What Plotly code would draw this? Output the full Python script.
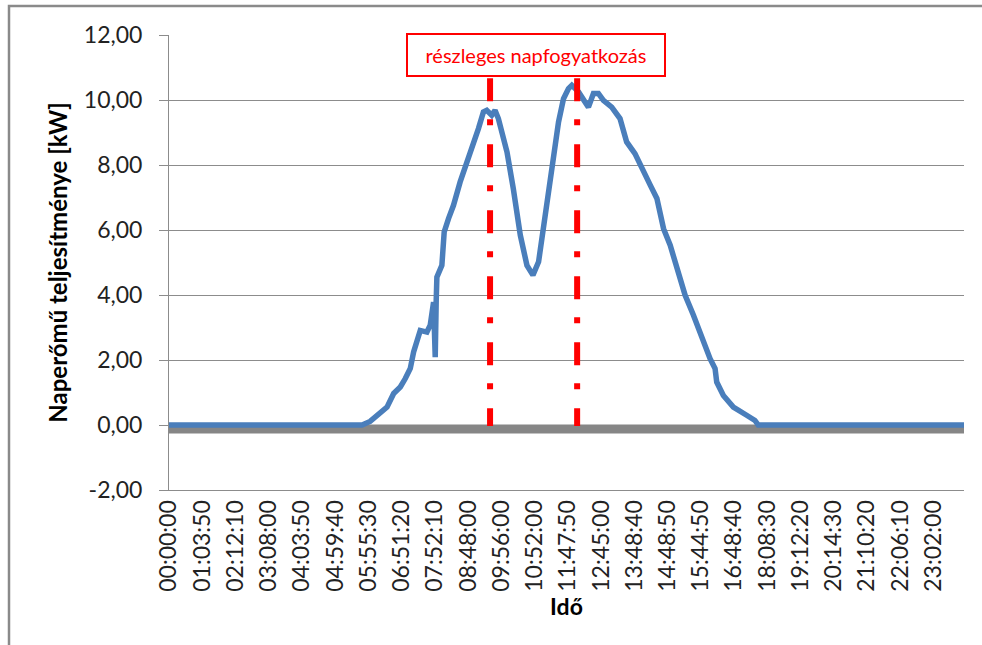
import plotly.graph_objects as go

# Category labels shown on the time axis (one every fixed number of samples)
time_labels = [
    "00:00:00", "01:03:50", "02:12:10", "03:08:00", "04:03:50", "04:59:40",
    "05:55:30", "06:51:20", "07:52:10", "08:48:00", "09:56:00", "10:52:00",
    "11:47:50", "12:45:00", "13:48:40", "14:48:50", "15:44:50", "16:48:40",
    "18:08:30", "19:12:20", "20:14:30", "21:10:20", "22:06:10", "23:02:00",
]
axis_end = 23.92  # last sample position in label units

# Power axis ticks and their labels (comma decimal, plain hyphen minus)
y_ticks = [-2, 0, 2, 4, 6, 8, 10, 12]
y_tick_labels = ["-2,00", "0,00", "2,00", "4,00", "6,00", "8,00", "10,00", "12,00"]

# PV plant output, position along the category axis (label units) and kW
pos = [
    0.00, 5.81, 6.05, 6.36, 6.56, 6.76, 6.96, 7.11, 7.26, 7.36, 7.56, 7.76,
    7.86, 7.96, 8.01, 8.04, 8.06, 8.21, 8.28, 8.41, 8.56, 8.76, 8.96, 9.16,
    9.31, 9.46, 9.56, 9.71, 9.81, 9.91, 10.17, 10.36, 10.57, 10.77, 10.95,
    11.12, 11.32, 11.52, 11.72, 11.87, 12.02, 12.12, 12.32, 12.47, 12.62,
    12.77, 12.92, 13.07, 13.32, 13.57, 13.77, 14.02, 14.23, 14.48, 14.68,
    14.88, 15.08, 15.33, 15.53, 15.78, 16.03, 16.28, 16.43, 16.48, 16.68,
    16.98, 17.38, 17.63, 17.73, 23.92,
]
power_kw = [
    0.00, 0.00, 0.11, 0.35, 0.55, 0.97, 1.17, 1.43, 1.74, 2.25, 2.91, 2.86,
    3.07, 3.78, 2.09, 3.84, 4.55, 4.91, 5.94, 6.35, 6.76, 7.48, 8.04, 8.61,
    9.12, 9.63, 9.68, 9.53, 9.68, 9.43, 8.40, 7.27, 5.84, 4.91, 4.61,
    5.02, 6.35, 7.89, 9.32, 10.04, 10.35, 10.45, 10.25, 9.99, 9.78,
    10.20, 10.20, 9.99, 9.78, 9.43, 8.71, 8.35, 7.94, 7.38, 6.97,
    6.04, 5.53, 4.66, 3.99, 3.38, 2.66, 2.04, 1.74, 1.32, 0.91,
    0.55, 0.30, 0.14, 0.00, 0.00,
]

# Second (grey) series, flat just under zero over the whole day
base_pos = [0.0, axis_end]
base_kw = [-0.12, -0.12]

# Eclipse phase markers (axis position) and their top (kW)
eclipse_pos = [9.66, 12.28]
eclipse_top = 10.67

GRID = "#8c8c8c"
TXT = "#222222"
FONT = "Lato"

fig = go.Figure()

fig.add_trace(go.Scatter(
    x=base_pos, y=base_kw, mode="lines",
    line=dict(color="#868686", width=9), hoverinfo="skip",
))
fig.add_trace(go.Scatter(
    x=pos, y=power_kw, mode="lines",
    line=dict(color="#4a7ebb", width=5.5), name="Naperőmű",
))
for p in eclipse_pos:
    fig.add_trace(go.Scatter(
        x=[p, p], y=[eclipse_top, -0.03], mode="lines",
        line=dict(color="#ff0000", width=6, dash="23px,18px,6px,19px"),
        hoverinfo="skip",
    ))

fig.add_annotation(
    xref="paper", yref="paper", x=(536 - 169) / 795, y=(490 - 55.5) / 455,
    xanchor="center", yanchor="middle",
    text="részleges napfogyatkozás", showarrow=False,
    font=dict(family=FONT, size=20, color="#ff0000"),
    bgcolor="white", bordercolor="#ff0000", borderwidth=2, borderpad=0,
    width=256, height=40,
)

# Outer chart frame
fig.add_shape(
    type="rect", xref="paper", yref="paper",
    x0=(9 - 169) / 795, x1=(995 - 169) / 795,
    y0=(490 - 660) / 455, y1=(490 - 6) / 455,
    line=dict(color="#8a8a8a", width=2.5), fillcolor="rgba(0,0,0,0)",
    layer="below",
)

fig.update_layout(
    width=982, height=645,
    margin=dict(l=169, r=18, t=35, b=155),
    paper_bgcolor="white", plot_bgcolor="white",
    showlegend=False,
    font=dict(family=FONT, color=TXT),
)

fig.update_xaxes(
    range=[0, axis_end],
    tickmode="array", tickvals=list(range(len(time_labels))), ticktext=time_labels,
    tickangle=-90, tickfont=dict(family=FONT, size=23, color=TXT),
    showgrid=False, zeroline=False,
    showline=True, linecolor=GRID, linewidth=1,
    ticks="",
    title=dict(text="<b>Idő</b>", font=dict(family=FONT, size=23, color="#000"), standoff=8),
)

fig.update_yaxes(
    range=[-2, 12], tickmode="array", tickvals=y_ticks, ticktext=y_tick_labels,
    tickfont=dict(family=FONT, size=23, color=TXT),
    showgrid=True, gridcolor=GRID, gridwidth=1, zeroline=False,
    showline=True, linecolor=GRID, linewidth=1,
    ticks="outside", ticklen=9, tickcolor=GRID, ticklabelstandoff=12,
    title=dict(text="<b>Naperőmű teljesítménye [kW]</b>",
               font=dict(family=FONT, size=24, color="#000"), standoff=9),
)

fig.write_html("out.html")
